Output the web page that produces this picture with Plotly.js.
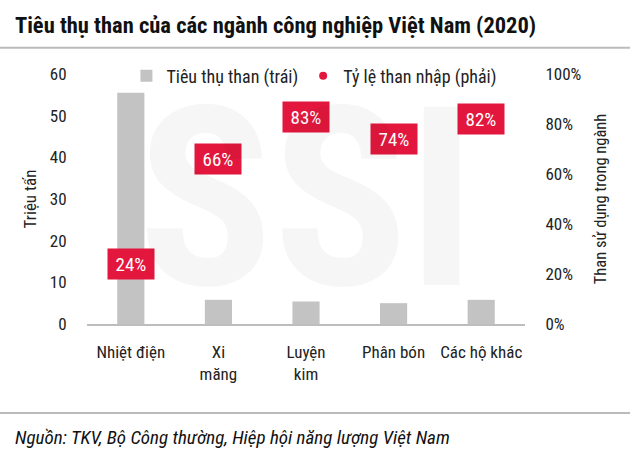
<!DOCTYPE html>
<html>
<head>
<meta charset="utf-8">
<script src="https://cdn.plot.ly/plotly-3.0.1.min.js"></script>
<style>html,body{margin:0;padding:0;background:#fff;}#chart{width:630px;height:471px;}</style>
</head>
<body>
<div id="chart"></div>
<script>
const categories = ["Nhiệt điện", "Xi<br>măng", "Luyện<br>kim", "Phân bón", "Các hộ khác"];
const consumption = [55.5, 5.8, 5.4, 5.0, 5.8];      // triệu tấn (trái)
const importShare = [0.24, 0.66, 0.83, 0.74, 0.82];   // tỷ lệ than nhập (phải)
const shareLabels = ["24%", "66%", "83%", "74%", "82%"];
const leftTicks = [0, 10, 20, 30, 40, 50, 60];
const rightTicks = [0, 0.2, 0.4, 0.6, 0.8, 1.0];

const FONT = "Liberation Sans Narrow, Arial Narrow, Roboto Condensed, Liberation Sans, sans-serif";
const RED = "#E3173E";

const traces = [
  {
    type: "bar", x: categories, y: consumption, name: "Tiêu thụ than (trái)",
    marker: {color: "#C3C3C3"}, width: 0.31, yaxis: "y", hoverinfo: "skip"
  },
  {
    type: "scatter", mode: "markers", x: categories, y: importShare, name: "Tỷ lệ than nhập (phải)",
    marker: {color: RED, size: 8, symbol: "circle"}, yaxis: "y2", hoverinfo: "skip"
  }
];

const annotations = categories.map((c, i) => ({
  x: c, y: importShare[i], xref: "x", yref: "y2", text: shareLabels[i], showarrow: false,
  font: {family: FONT, size: 19, color: "#fff"}, bgcolor: RED, width: 40, height: 24, borderpad: 3
}));

annotations.push({
  xref: "paper", yref: "paper", x: 0.5, y: 0.5, text: "<b>SSI</b>", showarrow: false,
  font: {family: FONT, size: 250, color: "rgba(0,0,0,0.035)"}
});
annotations.unshift({
  xref: "paper", yref: "paper", x: -0.168, y: 1.196, xanchor: "left", yanchor: "middle",
  text: "<b>Tiêu thụ than của các ngành công nghiệp Việt Nam (2020)</b>", showarrow: false,
  font: {family: FONT, size: 22.5, color: "#111"}
});
annotations.unshift({
  xref: "paper", yref: "paper", x: -0.168, y: -0.455, xanchor: "left", yanchor: "middle",
  text: "<i>Nguồn: TKV, Bộ Công thường, Hiệp hội năng lượng Việt Nam</i>", showarrow: false,
  font: {family: FONT, size: 19, color: "#111"}
});

const layout = {
  width: 630, height: 471,
  margin: {l: 87, r: 105, t: 74, b: 147},
  paper_bgcolor: "#fff", plot_bgcolor: "rgba(0,0,0,0)",
  font: {family: FONT, size: 17, color: "#222"},
  showlegend: true,
  legend: {orientation: "h", x: 0.09, y: 1.066, xanchor: "left", yanchor: "top",
           font: {family: FONT, size: 18, color: "#222"}, bgcolor: "rgba(0,0,0,0)", itemwidth: 30, traceorder: "normal"},
  bargap: 0.69,
  xaxis: {
    type: "category", range: [-0.5, 4.5], showgrid: false, zeroline: false,
    showline: true, linecolor: "#BDBDBD", linewidth: 1.5,
    ticks: "outside", ticklen: 12, tickcolor: "rgba(0,0,0,0)",
    tickfont: {family: FONT, size: 17, color: "#222"}
  },
  yaxis: {
    range: [0, 60], tickvals: leftTicks, showgrid: false, zeroline: false, showline: false,
    ticks: "outside", ticklen: 16, tickcolor: "rgba(0,0,0,0)",
    tickfont: {family: FONT, size: 17, color: "#222"},
    title: {text: "Triệu tấn", font: {family: FONT, size: 17, color: "#222"}, standoff: 8}
  },
  yaxis2: {
    overlaying: "y", side: "right", range: [0, 1], tickvals: rightTicks, tickformat: ".0%",
    showgrid: false, zeroline: false, showline: false,
    ticks: "outside", ticklen: 16, tickcolor: "rgba(0,0,0,0)",
    tickfont: {family: FONT, size: 17, color: "#222"},
    title: {text: "Than sử dụng trong ngành", font: {family: FONT, size: 16.5, color: "#222"}, standoff: 14}
  },
  shapes: [
    {type: "line", xref: "paper", yref: "paper", x0: -0.2, x1: 1.25, y0: 1.105, y1: 1.105, line: {color: "#BBBBBB", width: 2}},
    {type: "line", xref: "paper", yref: "paper", x0: -0.2, x1: 1.25, y0: -0.356, y1: -0.356, line: {color: "#BBBBBB", width: 2}}
  ],
  annotations: annotations
};

Plotly.newPlot("chart", traces, layout, {displayModeBar: false, staticPlot: true});
</script>
</body>
</html>
